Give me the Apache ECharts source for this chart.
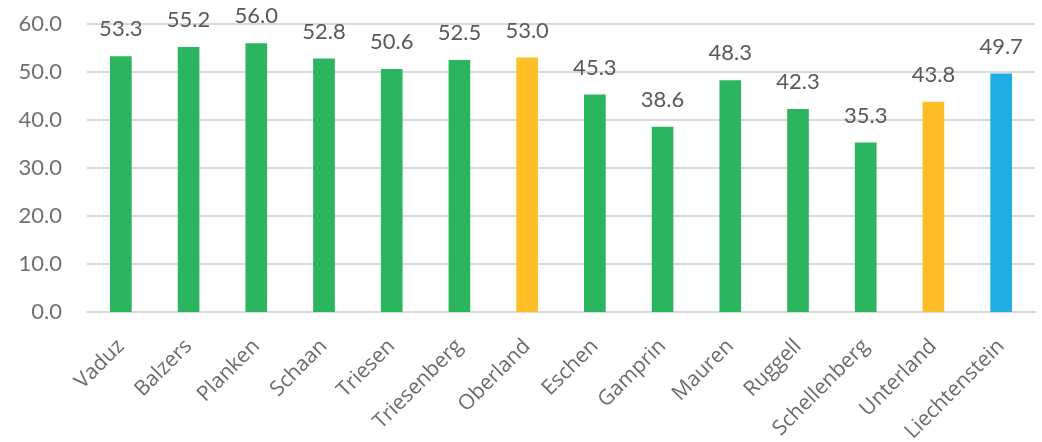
<!DOCTYPE html>
<html>
<head>
<meta charset="utf-8">
<script src="https://cdn.jsdelivr.net/npm/echarts@6/dist/echarts.min.js"></script>
<style>
html,body{margin:0;padding:0;background:#fff;}
#chart{width:1042px;height:442px;}
</style>
</head>
<body>
<div id="chart"></div>
<script>
var categories = ['Vaduz','Balzers','Planken','Schaan','Triesen','Triesenberg','Oberland','Eschen','Gamprin','Mauren','Ruggell','Schellenberg','Unterland','Liechtenstein'];
var values = [53.3,55.2,56.0,52.8,50.6,52.5,53.0,45.3,38.6,48.3,42.3,35.3,43.8,49.7];
var groups = ['municipality','municipality','municipality','municipality','municipality','municipality','region','municipality','municipality','municipality','municipality','municipality','region','country'];
var yTicks = {min:0, max:60, interval:10};
var groupColors = {municipality:'#2BB55F', region:'#FDBE27', country:'#1FAEE3'};

var chart = echarts.init(document.getElementById('chart'));
chart.setOption({
  animation:false,
  grid:{left:87,right:7,top:24,bottom:130,outerBoundsMode:'none'},
  xAxis:{
    type:'category',
    data:categories,
    axisLine:{lineStyle:{color:'#d9d9d9',width:2}},
    axisTick:{show:false},
    axisLabel:{rotate:45,interval:0,margin:31,fontFamily:'"Open Sans"',fontSize:21,color:'#6b6b6b'}
  },
  yAxis:{
    type:'value',
    min:yTicks.min,max:yTicks.max,interval:yTicks.interval,
    axisLine:{show:false},
    axisTick:{show:false},
    splitLine:{lineStyle:{color:'#d9d9d9',width:2}},
    axisLabel:{margin:25,fontFamily:'Lato',fontSize:22,color:'#707070',formatter:function(v){return v.toFixed(1);}}
  },
  series:[{
    type:'bar',
    barWidth:'32%',
    data:values.map(function(v,i){return {value:v,itemStyle:{color:groupColors[groups[i]]}};}),
    label:{show:true,position:'top',distance:16,fontFamily:'Lato',fontSize:22,color:'#595959',formatter:function(p){return p.value.toFixed(1);}}
  }]
});
</script>
</body>
</html>
